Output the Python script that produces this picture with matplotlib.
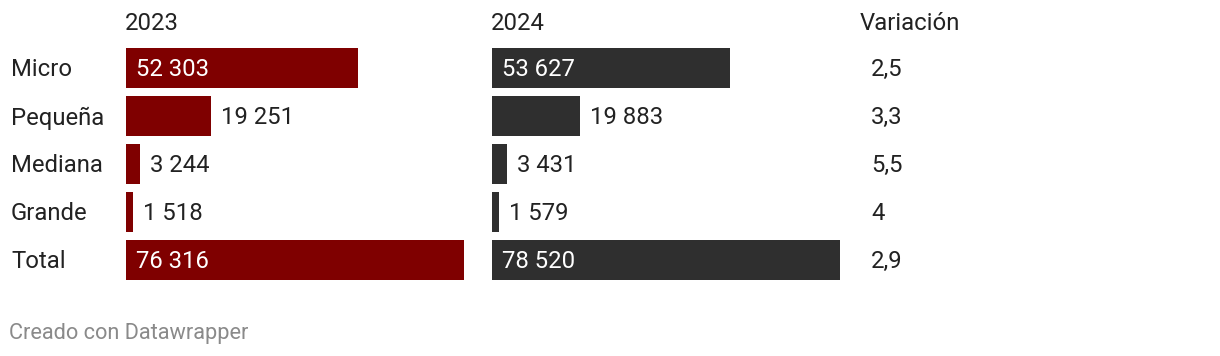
import matplotlib
matplotlib.use("Agg")
import matplotlib.pyplot as plt
from matplotlib.transforms import blended_transform_factory

categories = ["Micro", "Pequeña", "Mediana", "Grande", "Total"]
values_2023 = [52303, 19251, 3244, 1518, 76316]
values_2024 = [53627, 19883, 3431, 1579, 78520]
variacion = ["2,5", "3,3", "5,5", "4", "2,9"]
headers = ["2023", "2024", "Variación"]

W, H = 1220, 356
plt.rcParams['font.family'] = ['Roboto', 'DejaVu Sans']
fig = plt.figure(figsize=(W / 100, H / 100), dpi=100)
fig.patch.set_facecolor("white")

px_per_unit = 338 / 76316
FS = 17.2
TXT = "#222222"

def fx(px):
    return px / W

def fy(py):
    return 1 - py / H

top, bottom = 44, 284
n = len(categories)

def make_ax(left_px, width_px):
    ax = fig.add_axes([fx(left_px), fy(bottom), width_px / W, (bottom - top) / H])
    ax.set_xlim(0, width_px / px_per_unit)
    ax.set_ylim(n - 0.5, -0.5)
    ax.axis("off")
    return ax

ax1 = make_ax(126, 345)
ax2 = make_ax(492, 355)

def fmt(v):
    return f"{v:,}".replace(",", " ")

YOFF = 0.04
for ax, vals, color in [(ax1, values_2023, "#7f0000"), (ax2, values_2024, "#2f2f2f")]:
    ypos = list(range(n))
    ax.barh(ypos, vals, height=40 / 48, color=color, left=0)
    for y, v in zip(ypos, vals):
        wpx = v * px_per_unit
        if wpx > 150:
            ax.text(10 / px_per_unit, y + YOFF, fmt(v), color="white", fontsize=FS,
                    va="center", ha="left")
        else:
            ax.text(v + 10 / px_per_unit, y + YOFF, fmt(v), color=TXT, fontsize=FS,
                    va="center", ha="left")

tr = blended_transform_factory(fig.transFigure, ax1.transData)
for i, (c, var) in enumerate(zip(categories, variacion)):
    fig.text(fx(11), i + YOFF, c, transform=tr, fontsize=FS, color=TXT, va="center", ha="left")
    fig.text(fx(871), i + YOFF, var, transform=tr, fontsize=FS, color=TXT, va="center", ha="left")

for xpx, h in zip([125, 491, 860], headers):
    fig.text(fx(xpx), fy(24), h, fontsize=FS, color=TXT, va="center", ha="left")

fig.text(fx(9), fy(334), "Creado con Datawrapper", fontsize=15.7, color="#8a8a8a",
         va="center", ha="left")

fig.savefig("out.png", dpi=100, facecolor="white")
